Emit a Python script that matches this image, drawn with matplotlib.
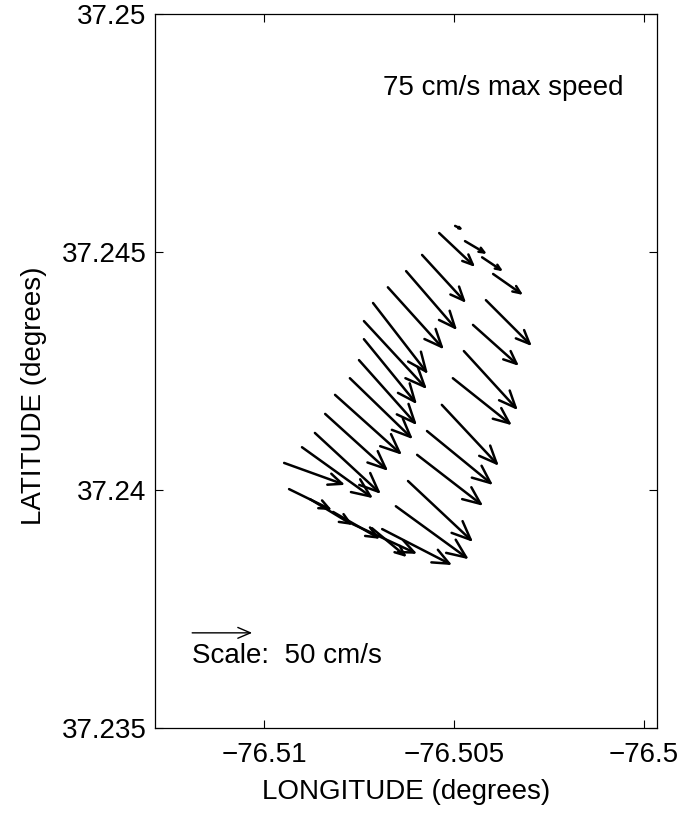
import matplotlib
matplotlib.use("Agg")
import matplotlib.pyplot as plt

plt.rcParams['font.family'] = ['Liberation Sans', 'DejaVu Sans']

# current meter stations (deg) and depth-mean current (cm/s, east / north)
lon = [-76.50497, -76.50471, -76.50426, -76.50397, -76.50539, -76.50584, -76.50626,
       -76.50674, -76.50713, -76.50737, -76.50737, -76.50750, -76.50774, -76.50813,
       -76.50839, -76.50866, -76.50900, -76.50947, -76.50934, -76.50879, -76.50818,
       -76.50768, -76.50716, -76.50689, -76.50653, -76.50621, -76.50597, -76.50571,
       -76.50532, -76.50503, -76.50474, -76.50450, -76.50416]
lat = [37.24555, 37.24523, 37.24489, 37.24454, 37.24540, 37.24494, 37.24460,
       37.24426, 37.24393, 37.24355, 37.24317, 37.24273, 37.24235, 37.24200,
       37.24160, 37.24120, 37.24090, 37.24057, 37.24002, 37.23981, 37.23954,
       37.23929, 37.23920, 37.23918, 37.23966, 37.24019, 37.24074, 37.24124,
       37.24179, 37.24235, 37.24292, 37.24347, 37.24399]
u = [6.7, 18.3, 17.5, 25.0, 30.0, 36.7, 42.5, 46.7, 45.8, 52.5, 44.2, 48.3, 52.5,
     55.8, 52.5, 55.0, 59.2, 50.8, 35.8, 35.8, 39.2, 54.2, 29.2, 58.3, 60.8, 54.2,
     55.0, 55.0, 47.5, 49.2, 45.0, 38.3, 38.3]
v = [-3.3, -10.8, -11.7, -17.5, -28.3, -40.0, -49.2, -51.7, -59.2, -56.7, -54.2,
     -54.2, -50.8, -50.0, -47.5, -50.8, -42.5, -18.3, -17.5, -21.7, -22.5, -25.0,
     -24.2, -30.0, -44.2, -50.8, -42.5, -45.0, -50.8, -39.2, -49.2, -34.2, -38.3]

x_ticks = [-76.51, -76.505, -76.5]
x_labels = ["\u221276.51", "\u221276.505", "\u221276.5"]
y_ticks = [37.235, 37.24, 37.245, 37.25]
y_labels = ["37.235", "37.24", "37.245", "37.25"]

scale_lon, scale_lat, scale_speed = -76.51189, 37.23700, 50
PX_PER_CMS = 1.2   # arrow length in pixels per cm/s

fig = plt.figure(figsize=(6.92, 8.15), dpi=100)
ax = fig.add_axes([0.224, 0.1067, 0.7254, 0.876])
ax.set_xlim(-76.512868, -76.499658)
ax.set_ylim(37.235, 37.25)


def arrow(x, y, du, dv, lw=1.8):
    # open-headed arrow, head size grows with arrow length (like matlab quiver)
    n = (du ** 2 + dv ** 2) ** 0.5 * PX_PER_CMS * 0.72
    ax.annotate("", xy=(x, y), xycoords='data',
                xytext=(du * PX_PER_CMS, dv * PX_PER_CMS), textcoords='offset pixels',
                arrowprops=dict(arrowstyle="<-,head_length=%.2f,head_width=%.2f" % (0.21 * n, 0.09 * n),
                                lw=lw, color='k', shrinkA=0, shrinkB=0, mutation_scale=1))


for i in range(len(lon)):
    arrow(lon[i], lat[i], u[i], v[i])

arrow(scale_lon, scale_lat, scale_speed, 0, lw=1.0)
ax.text(0.074, 0.101, "Scale:  %d cm/s" % scale_speed, transform=ax.transAxes,
        ha='left', va='center', fontsize=20)
ax.text(0.455, 0.897, "75 cm/s max speed", transform=ax.transAxes,
        ha='left', va='center', fontsize=20)

ax.set_xticks(x_ticks, x_labels)
ax.set_yticks(y_ticks, y_labels)
ax.tick_params(direction='in', top=True, right=True, length=6, width=0.8,
               labelsize=20)
ax.tick_params(axis='x', pad=10)
ax.tick_params(axis='y', pad=6)
for s in ax.spines.values():
    s.set_linewidth(0.9)

ax.set_xlabel("LONGITUDE (degrees)", fontsize=20)
ax.set_ylabel("LATITUDE (degrees)", fontsize=20)
ax.xaxis.set_label_coords(0.5, -0.072)
ax.yaxis.set_label_coords(-0.215, 0.466)

fig.savefig("out.png", dpi=100)
